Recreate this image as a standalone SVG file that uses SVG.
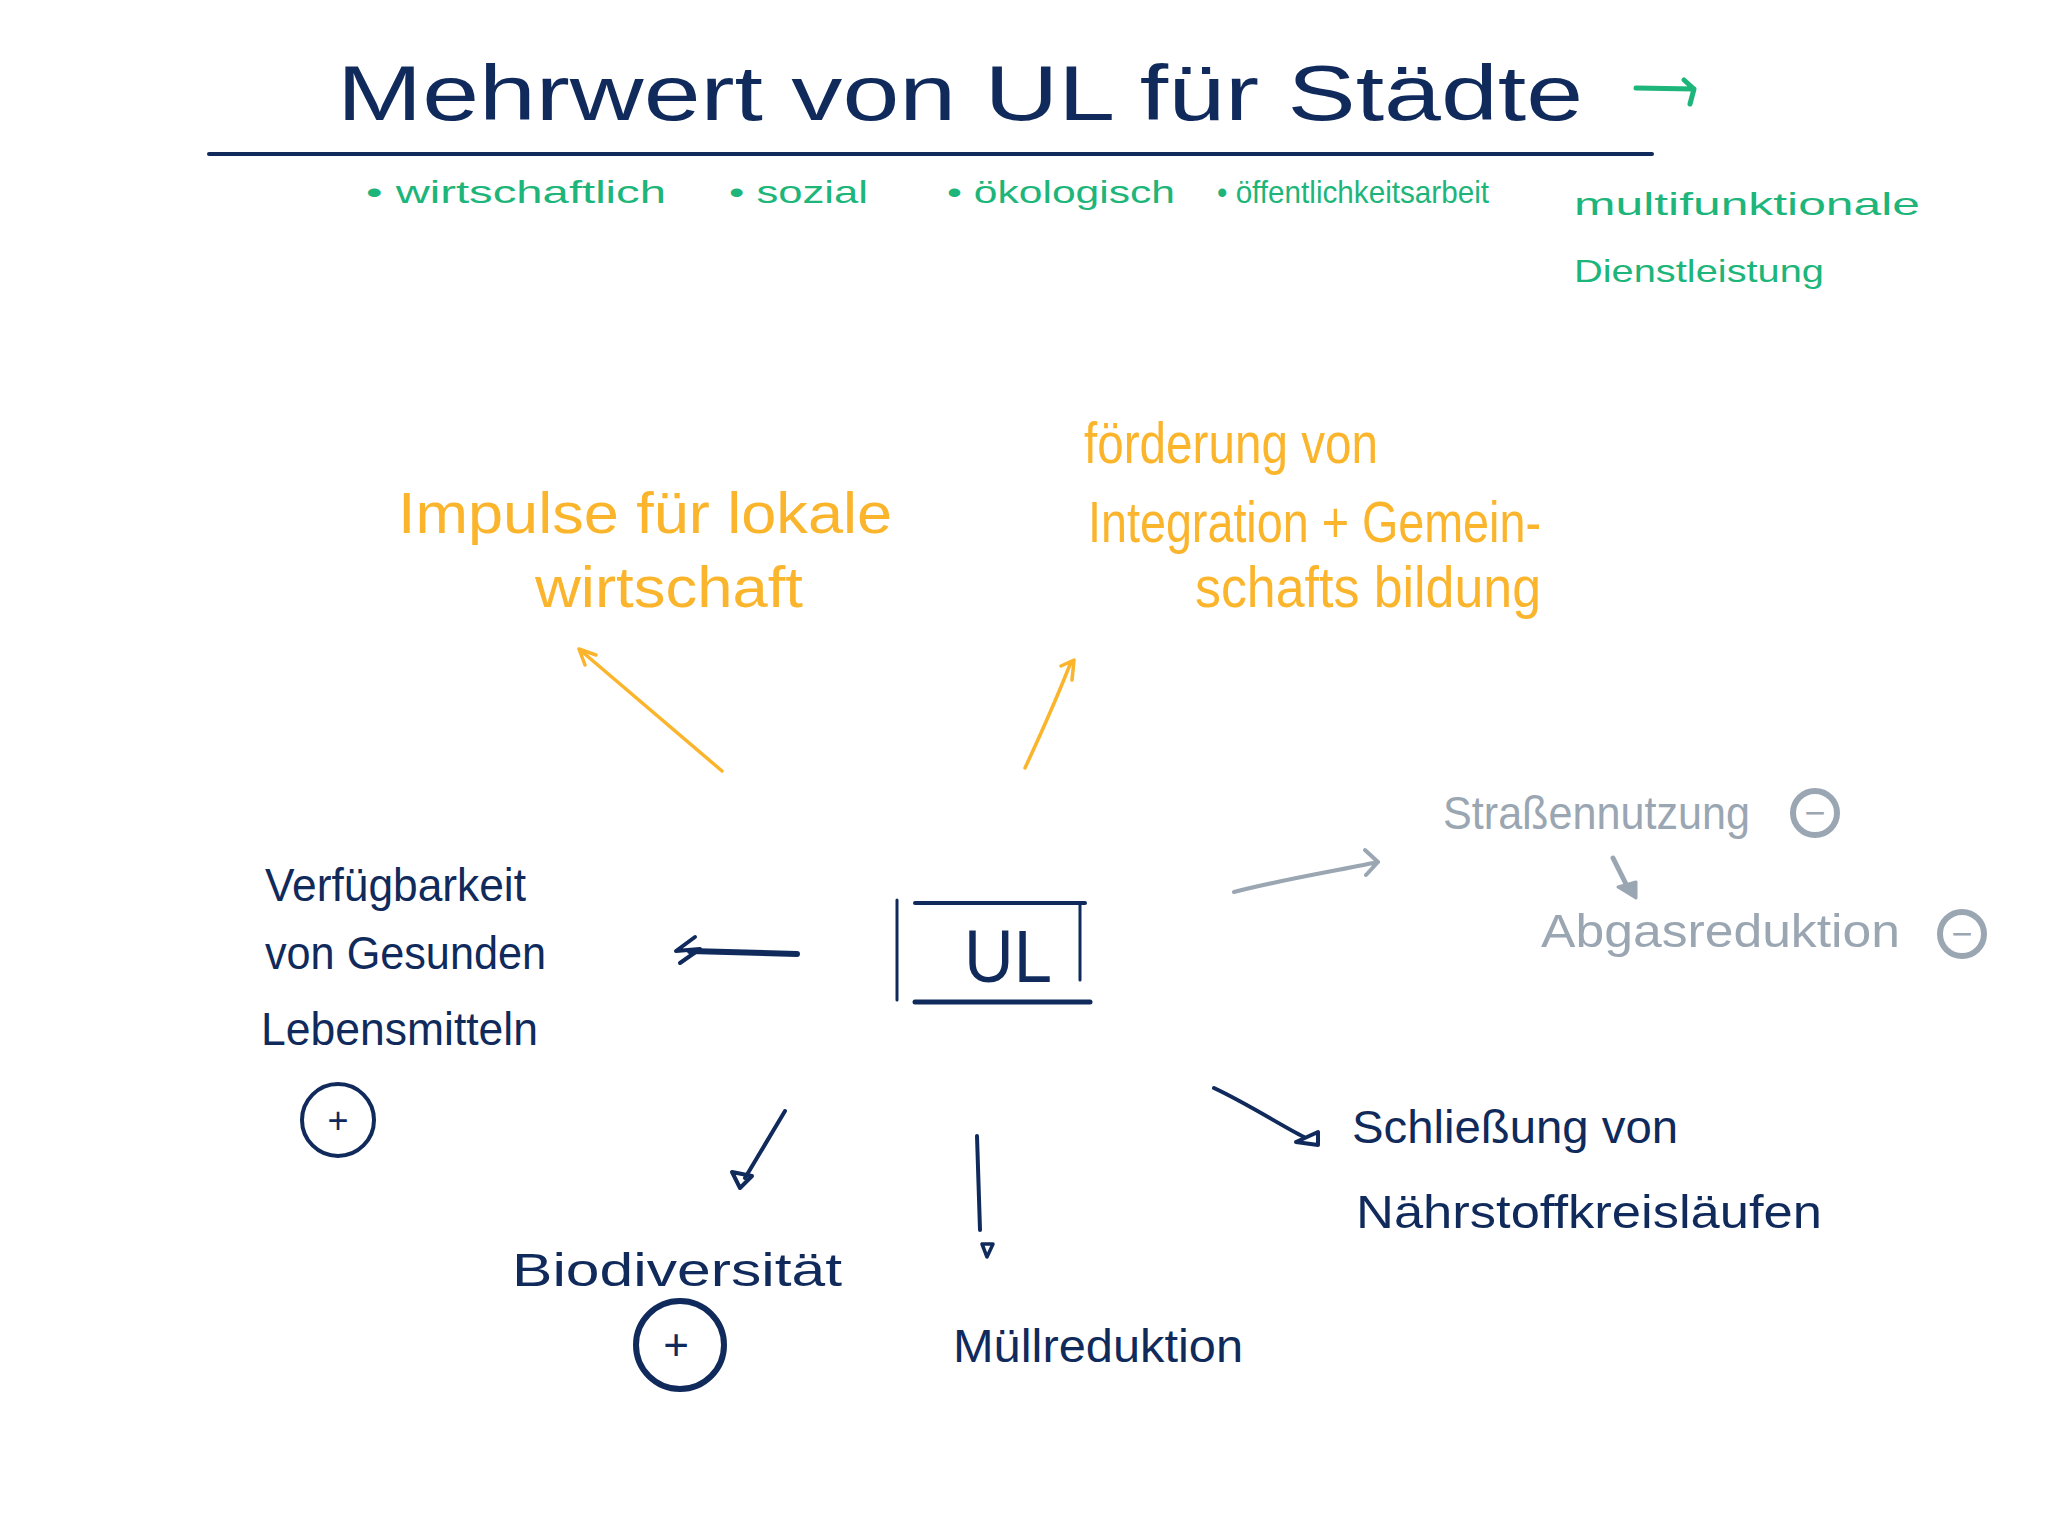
<svg xmlns="http://www.w3.org/2000/svg" width="2048" height="1536" viewBox="0 0 2048 1536">
<style>
text{font-family:"Liberation Sans","DejaVu Sans",sans-serif;}
.navy{fill:#102a5c;}
.green{fill:#1db57a;}
.orange{fill:#fbb52c;}
.gray{fill:#9aa6b2;}
.sn{stroke:#102a5c;fill:none;stroke-linecap:round;stroke-linejoin:round;}
.so{stroke:#fbb52c;fill:none;stroke-linecap:round;stroke-linejoin:round;}
.sg{stroke:#9aa6b2;fill:none;stroke-linecap:round;stroke-linejoin:round;}
.sgr{stroke:#1db57a;fill:none;stroke-linecap:round;stroke-linejoin:round;}
.t1{font-size:78px;}
.t2{font-size:32px;}
.t3{font-size:58px;}
.t4{font-size:46px;}
</style>
<rect width="2048" height="1536" fill="#ffffff"/>

<g id="title">
<text class="navy t1" x="337" y="120" textLength="1246" lengthAdjust="spacingAndGlyphs">Mehrwert von UL für Städte</text>
<line class="sn" x1="209" y1="154" x2="1652" y2="154" stroke-width="4"/>
</g>

<g id="categories">
<text class="green t2" x="366" y="203" textLength="300" lengthAdjust="spacingAndGlyphs">• wirtschaftlich</text>
<text class="green t2" x="729" y="203" textLength="139" lengthAdjust="spacingAndGlyphs">• sozial</text>
<text class="green t2" x="947" y="203" textLength="228" lengthAdjust="spacingAndGlyphs">• ökologisch</text>
<text class="green t2" x="1217" y="203" textLength="272" lengthAdjust="spacingAndGlyphs">• öffentlichkeitsarbeit</text>
</g>

<g id="multifunktional">
<text class="green t2" x="1574" y="215" textLength="346" lengthAdjust="spacingAndGlyphs">multifunktionale</text>
<text class="green t2" x="1574" y="282" textLength="250" lengthAdjust="spacingAndGlyphs">Dienstleistung</text>
</g>

<g id="impulse">
<text class="orange t3" x="398" y="533" textLength="494" lengthAdjust="spacingAndGlyphs">Impulse für lokale</text>
<text class="orange t3" x="535" y="607" textLength="268" lengthAdjust="spacingAndGlyphs">wirtschaft</text>
</g>

<g id="foerderung">
<text class="orange t3" x="1084" y="463" textLength="294" lengthAdjust="spacingAndGlyphs">förderung von</text>
<text class="orange t3" x="1088" y="542" textLength="453" lengthAdjust="spacingAndGlyphs">Integration + Gemein-</text>
<text class="orange t3" x="1195" y="607" textLength="346" lengthAdjust="spacingAndGlyphs">schafts bildung</text>
</g>

<g id="ul">
<line class="sn" x1="897" y1="900" x2="897" y2="1000" stroke-width="3"/>
<line class="sn" x1="915" y1="903" x2="1085" y2="903" stroke-width="4"/>
<line class="sn" x1="1080" y1="905" x2="1080" y2="980" stroke-width="3"/>
<line class="sn" x1="915" y1="1002" x2="1090" y2="1002" stroke-width="5"/>
<text class="navy" font-size="74" x="964" y="982" textLength="88" lengthAdjust="spacingAndGlyphs">UL</text>
</g>

<g id="strassennutzung">
<text class="gray t4" x="1443" y="829" textLength="307" lengthAdjust="spacingAndGlyphs">Straßennutzung</text>
<circle class="sg" cx="1815" cy="813" r="22" stroke-width="6"/>
<text class="gray" font-size="36" x="1815" y="825" text-anchor="middle">−</text>
</g>

<g id="abgasreduktion">
<text class="gray t4" x="1541" y="947" textLength="359" lengthAdjust="spacingAndGlyphs">Abgasreduktion</text>
<circle class="sg" cx="1962" cy="934" r="22" stroke-width="6"/>
<text class="gray" font-size="36" x="1962" y="946" text-anchor="middle">−</text>
</g>

<g id="verfuegbarkeit">
<text class="navy t4" x="265" y="901" textLength="261" lengthAdjust="spacingAndGlyphs">Verfügbarkeit</text>
<text class="navy t4" x="265" y="969" textLength="281" lengthAdjust="spacingAndGlyphs">von Gesunden</text>
<text class="navy t4" x="261" y="1045" textLength="277" lengthAdjust="spacingAndGlyphs">Lebensmitteln</text>
<circle class="sn" cx="338" cy="1120" r="36" stroke-width="4"/>
<text class="navy" font-size="36" x="338" y="1133" text-anchor="middle">+</text>
</g>

<g id="biodiversitaet">
<text class="navy t4" x="512" y="1286" textLength="330" lengthAdjust="spacingAndGlyphs">Biodiversität</text>
<circle class="sn" cx="680" cy="1345" r="44" stroke-width="6"/>
<text class="navy" font-size="44" x="676" y="1360" text-anchor="middle">+</text>
</g>

<g id="muellreduktion">
<text class="navy t4" x="953" y="1362" textLength="290" lengthAdjust="spacingAndGlyphs">Müllreduktion</text>
</g>

<g id="schliessung">
<text class="navy t4" x="1352" y="1143" textLength="326" lengthAdjust="spacingAndGlyphs">Schließung von</text>
<text class="navy t4" x="1356" y="1228" textLength="466" lengthAdjust="spacingAndGlyphs">Nährstoffkreisläufen</text>
</g>

<g id="title-arrow">
<path class="sgr" d="M1636 88 L1694 89 M1684 80 L1694 89 L1690 104" stroke-width="5"/>
</g>

<g id="connectors">
<path class="so" d="M722 771 L579 649 M579 649 L596 655 M579 649 L585 665" stroke-width="3.5"/>
<path class="so" d="M1025 768 C1045 725 1060 690 1071 662 M1061 666 L1074 660 L1072 680" stroke-width="3.5"/>
<path class="sg" d="M1234 892 C1280 880 1330 872 1378 862 M1365 850 L1378 862 L1366 875" stroke-width="4"/>
<path class="sg" d="M1613 858 L1628 888" stroke-width="5"/>
<path d="M1618 887 L1636 882 L1636 898 Z" fill="#9aa6b2" stroke="#9aa6b2" stroke-width="3" stroke-linejoin="round"/>
<path class="sn" d="M797 954 L690 951" stroke-width="6"/>
<path class="sn" d="M695 937 L676 951 L700 949 L680 963" stroke-width="4"/>
<path class="sn" d="M785 1111 L745 1178" stroke-width="4"/>
<path class="sn" d="M732 1172 L752 1176 L740 1188 Z" stroke-width="4"/>
<path class="sn" d="M977 1136 L980 1230" stroke-width="4"/>
<path class="sn" d="M982 1244 L993 1244 L987 1257 Z" stroke-width="3.5"/>
<path class="sn" d="M1214 1088 C1250 1105 1280 1125 1304 1137" stroke-width="4"/>
<path class="sn" d="M1296 1142 L1318 1132 L1318 1145 Z" stroke-width="4"/>
</g>
</svg>
